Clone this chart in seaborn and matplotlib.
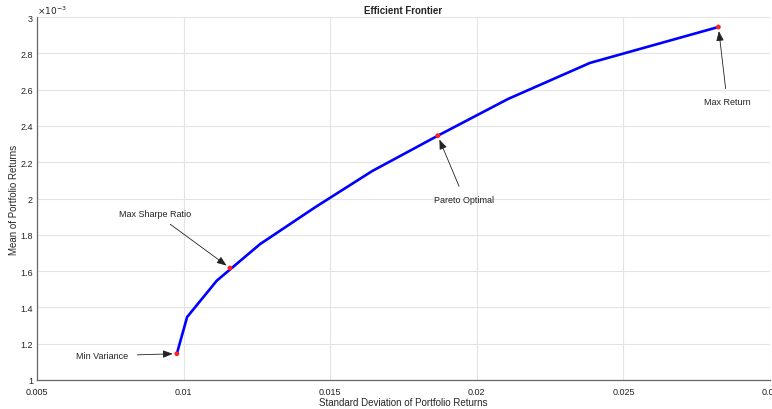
import pandas as pd
import seaborn as sns
import matplotlib
matplotlib.use('Agg')
import matplotlib.pyplot as plt
from matplotlib.ticker import FuncFormatter

# Frontier points (std dev, mean)
frontier_std = [0.00977, 0.01012, 0.01113, 0.01261, 0.01448, 0.01643,
                0.01867, 0.02106, 0.02386, 0.02824]
frontier_mean = [0.001145, 0.001347, 0.001547, 0.001749, 0.001951, 0.002151,
                 0.002346, 0.002548, 0.002747, 0.002945]

# Highlighted portfolios
point_names = ['Min Variance', 'Max Sharpe Ratio', 'Pareto Optimal', 'Max Return']
point_std = [0.00977, 0.01158, 0.01867, 0.02824]
point_mean = [0.001145, 0.001617, 0.002346, 0.002945]

# label positions (data coords) for the arrows' tails
label_std = [0.00723, 0.00903, 0.01958, 0.02854]
label_mean = [0.001133, 0.001919, 0.001996, 0.002532]

x_ticks = [0.005, 0.01, 0.015, 0.02, 0.025, 0.03]
y_ticks = [0.001, 0.0012, 0.0014, 0.0016, 0.0018, 0.002, 0.0022, 0.0024,
           0.0026, 0.0028, 0.003]

sns.set_style("whitegrid")
plt.rcParams['font.family'] = ['Liberation Sans', 'DejaVu Sans']

df = pd.DataFrame({'std': frontier_std, 'mean': frontier_mean})
pts = pd.DataFrame({'std': point_std, 'mean': point_mean, 'name': point_names})

fig = plt.figure(figsize=(7.72, 4.10), dpi=100)
ax = fig.add_axes([37 / 772, 1 - 381 / 410, (770 - 37) / 772, (381 - 18) / 410])

sns.lineplot(data=df, x='std', y='mean', sort=False, color='#0000ff',
             linewidth=1.9, ax=ax)
sns.scatterplot(data=pts, x='std', y='mean', color='#ff2020', s=12,
                edgecolor='none', ax=ax, zorder=5)

for name, px, py, lx, ly in zip(point_names, point_std, point_mean, label_std, label_mean):
    ax.annotate(name, xy=(px, py), xytext=(lx, ly), fontsize=6.5,
                ha='center', va='center', color='#222222',
                arrowprops=dict(arrowstyle='-|>,head_length=0.9,head_width=0.35',
                                color='#222222', lw=0.6, shrinkA=4, shrinkB=3))

ax.set_xlim(0.005, 0.03)
ax.set_ylim(0.001, 0.003)
ax.set_xticks(x_ticks)
ax.set_yticks(y_ticks)
ax.xaxis.set_major_formatter(FuncFormatter(lambda v, p: '%g' % round(v, 4)))
ax.yaxis.set_major_formatter(FuncFormatter(lambda v, p: '%g' % round(v * 1e3, 2)))
ax.tick_params(axis='both', direction='in', length=4, width=0.8,
               labelsize=6.5, colors='#444444', labelcolor='#222222', pad=3)
ax.tick_params(axis='x', pad=5)
ax.grid(True, color='#e4e4e4', linewidth=0.8)

for side in ['top', 'right']:
    ax.spines[side].set_visible(False)
for side in ['left', 'bottom']:
    ax.spines[side].set_color('#666666')
    ax.spines[side].set_linewidth(0.9)

ax.text(0.0, 1.003, r'$\times10^{-3}$', transform=ax.transAxes, fontsize=6.5,
        ha='left', va='bottom', color='#222222')

ax.set_title('Efficient Frontier', fontsize=7, fontweight='bold', pad=3)
ax.set_xlabel('Standard Deviation of Portfolio Returns', fontsize=7, labelpad=1)
ax.set_ylabel('Mean of Portfolio Returns', fontsize=7, labelpad=1)

fig.savefig('out.png', dpi=100)
